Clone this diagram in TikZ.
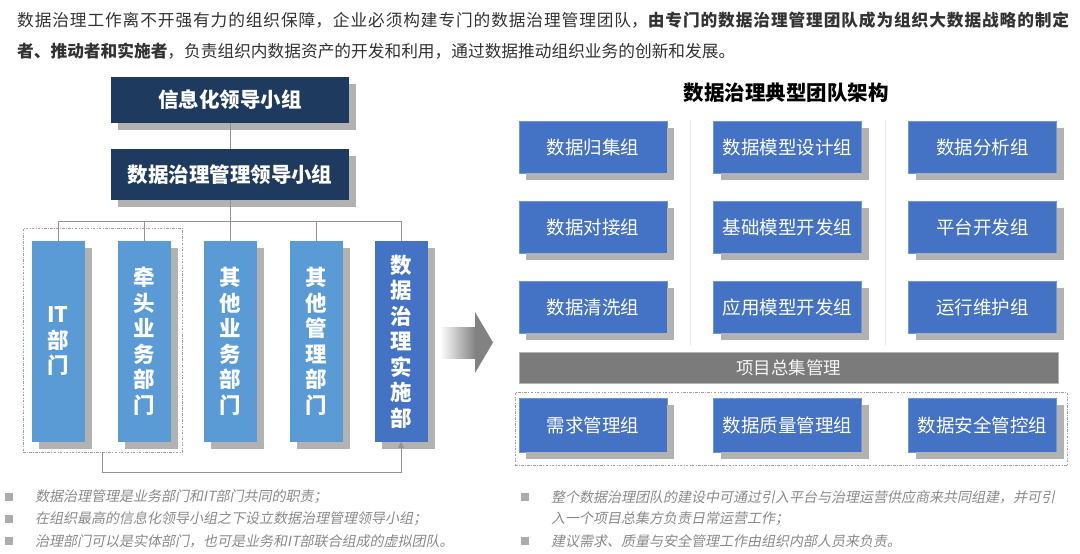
\documentclass[tikz,border=0pt]{standalone}
\usepackage{fontspec}
\setmainfont{Noto Sans CJK SC}
\newfontfamily\cjkit[FakeSlant=0.2]{Noto Sans CJK SC}
\usetikzlibrary{arrows.meta}
\XeTeXlinebreaklocale "zh"
\XeTeXlinebreakskip=0pt plus 1pt
\definecolor{navy}{HTML}{1F3A5F}
\definecolor{lblue}{HTML}{5B9BD5}
\definecolor{mblue}{HTML}{4472C4}
\definecolor{shcol}{RGB}{178,178,178}
\definecolor{txtgray}{HTML}{333333}
\definecolor{itgray}{HTML}{8A8A8A}
\definecolor{bargray}{HTML}{7B7B7B}
\definecolor{sepgray}{HTML}{E6E6E6}
\tikzset{
  box/.style={inner sep=0pt, outer sep=0pt, text=white},
  shadowline/.style={draw=shcol, line width=7pt},
  navybox/.style={box, fill=navy, minimum width=238pt,
    font=\fontsize{20.5}{24}\selectfont\bfseries},
  colbox/.style={box, fill=lblue, minimum width=53pt, minimum height=201pt,
    align=center, font=\fontsize{21.5}{25.5}\selectfont\bfseries},
  gridbox/.style={box, fill=mblue, draw=mblue!75!white, line width=0.6pt,
    minimum width=148pt, minimum height=52pt,
    font=\fontsize{18.5}{22}\selectfont},
  conn/.style={draw=gray!85, line width=0.8pt},
  dotbox/.style={draw=gray!75, line width=0.6pt,
    dash pattern=on 2.5pt off 1.5pt on 0.6pt off 1.5pt, inner sep=0pt},
  bsq/.style={fill=gray!65, minimum size=8pt, inner sep=0pt},
  btext/.style={anchor=west, inner sep=0pt, text=itgray,
    font=\fontsize{14}{17}\selectfont\cjkit},
  sepline/.style={draw=sepgray, line width=0.8pt},
}
\begin{document}
\begin{tikzpicture}[x=1pt,y=-1pt]
\useasboundingbox (0,0) rectangle (1080,554);
\fill[white] (0,0) rectangle (1080,554);

% header
\node[anchor=north west, text width=1052pt, align=justify, inner sep=0pt,
  text=txtgray, font=\fontsize{16.7}{31}\selectfont] (hdr) at (17,12)
  {数据治理工作离不开强有力的组织保障，企业必须构建专门的数据治理管理团队，{\bfseries 由专门的数据治理管理团队成为组织大数据战略的制定\linebreak 者、推动者和实施者}，负责组织内数据资产的开发和利用，通过数据推动组织业务的创新和发展。};

% left org chart
\node[navybox, minimum height=46pt] (lead) at (230,100) {信息化领导小组};
\node[navybox, minimum height=51pt] (mgmt) at (230,174.5) {数据治理管理领导小组};
\node[colbox] (c1) at (58,341.5) {IT\\部\\门};
\node[colbox] (c2) at (144,341.5) {牵\\头\\业\\务\\部\\门};
\node[colbox] (c3) at (230,341.5) {其\\他\\业\\务\\部\\门};
\node[colbox] (c4) at (316,341.5) {其\\他\\管\\理\\部\\门};
\node[colbox, fill=mblue] (c5) at (401,341.5) {数\\据\\治\\理\\实\\施\\部};

% right grid
\node[gridbox] (g11) at (593,147) {数据归集组};
\node[gridbox] (g12) at (787.5,147) {数据模型设计组};
\node[gridbox] (g13) at (982.5,147) {数据分析组};
\node[gridbox] (g21) at (593,227) {数据对接组};
\node[gridbox] (g22) at (787.5,227) {基础模型开发组};
\node[gridbox] (g23) at (982.5,227) {平台开发组};
\node[gridbox] (g31) at (593,307) {数据清洗组};
\node[gridbox] (g32) at (787.5,307) {应用模型开发组};
\node[gridbox] (g33) at (982.5,307) {运行维护组};
\node[gridbox, minimum height=54pt] (g41) at (593,425) {需求管理组};
\node[gridbox, minimum height=54pt] (g42) at (787.5,425) {数据质量管理组};
\node[gridbox, minimum height=54pt] (g43) at (982.5,425) {数据安全管控组};

% drop shadows: L-shaped bands along right and bottom edges
\foreach \n in {lead,mgmt,c1,c2,c3,c4,c5,g11,g12,g13,g21,g22,g23,g31,g32,g33,g41,g42,g43}
  \draw[shadowline] ([shift={(3.5,7)}]\n.north east) -- ([shift={(3.5,3.5)}]\n.south east)
    -- ([shift={(7,3.5)}]\n.south west);

\node[dotbox, minimum width=159pt, minimum height=224pt] (grp) at (102.5,340) {};
\coordinate (busL) at (58,221);
\coordinate (busR) at (401,221);
\draw[conn] (lead.south) -- (mgmt.north);
\draw[conn] (mgmt.south) -- (mgmt.south |- busL);
\draw[conn] (busL) -- (busR);
\foreach \c in {c1,c2,c3,c4,c5} \draw[conn] (\c.north) -- (\c.north |- busL);
\draw[conn, -{Triangle[width=6pt,length=6pt]}] (grp.south) -- ++(0,20) -| (c5.south);

% big arrow
\shade[left color=white, right color=bargray!95] (440,327) rectangle (475.5,358);
\fill[bargray!95] (475,312) -- (493,342.5) -- (475,373) -- cycle;

% right side
\node[font=\fontsize{20.5}{24}\selectfont\bfseries] (title) at (786,93) {数据治理典型团队架构};
\draw[sepline] (690,120) -- (690,345);
\draw[sepline] (885,120) -- (885,345);

\node[inner sep=0pt, fill=bargray, draw=gray!60, minimum width=539pt, minimum height=31pt,
  text=white!92!gray, font=\fontsize{17.5}{20}\selectfont] (bar) at (788.5,367.5) {项目总集管理};
\node[dotbox, minimum width=552pt, minimum height=73pt] (grp2) at (791,429) {};

% bullets left
\node[bsq] (s1) at (9,497) {};
\node[bsq] (s2) at (9,519) {};
\node[bsq] (s3) at (9,541) {};
\node[btext] (t1) at (35,497) {数据治理管理是业务部门和IT部门共同的职责；};
\node[btext] (t2) at (35,519) {在组织最高的信息化领导小组之下设立数据治理管理领导小组；};
\node[btext] (t3) at (35,541) {治理部门可以是实体部门，也可是业务和IT部联合组成的虚拟团队。};

% bullets right
\node[bsq] (s4) at (525,497) {};
\node[bsq] (s5) at (525,541) {};
\node[btext] (t4) at (551,497) {整个数据治理团队的建设中可通过引入平台与治理运营供应商来共同组建，并可引};
\node[btext] (t5) at (551,519) {入一个项目总集方负责日常运营工作；};
\node[btext] (t6) at (551,541) {建议需求、质量与安全管理工作由组织内部人员来负责。};
\end{tikzpicture}
\end{document}
